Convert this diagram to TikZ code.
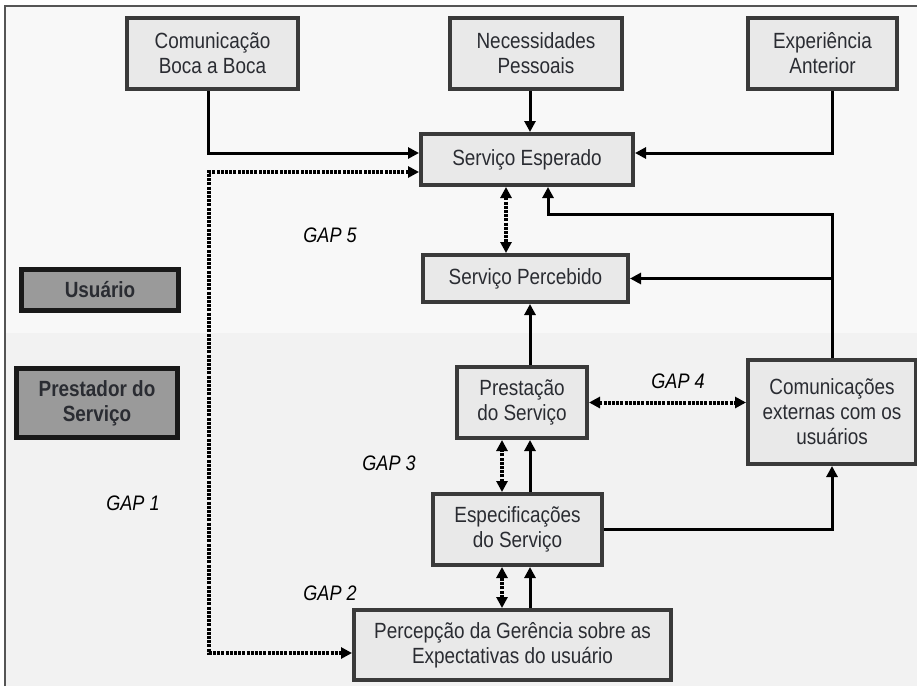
\documentclass[tikz,border=0pt]{standalone}
\usepackage{fontspec}
\setmainfont[FakeStretch=0.86]{Liberation Sans}
\usetikzlibrary{arrows.meta}
\definecolor{txt}{HTML}{2A2C32}
\definecolor{boxline}{HTML}{3A3A3A}
\definecolor{boxfill}{HTML}{E9E9E9}
\definecolor{rolefill}{HTML}{9A9A9A}
\definecolor{bgtop}{HTML}{F8F8F8}
\definecolor{bgbot}{HTML}{F2F2F2}
\definecolor{frame}{HTML}{555555}
\begin{document}
\begin{tikzpicture}[x=1pt,y=-1pt,
  box/.style={draw=boxline, line width=4pt, fill=boxfill, inner sep=0pt, align=center,
    text=txt, font=\fontsize{22}{25}\selectfont},
  rolebox/.style={draw=black!90, line width=5pt, fill=rolefill, inner sep=0pt, align=center,
    text=txt, font=\fontsize{22}{25}\selectfont\bfseries},
  sol/.style={line width=3pt, -{Triangle[length=11pt,width=11pt]}},
  dotl/.style={line width=4pt, dash pattern=on 3pt off 1.2pt,
    {Triangle[length=11pt,width=11pt]}-{Triangle[length=11pt,width=11pt]}},
  gap/.style={font=\fontsize{21}{24}\selectfont\itshape, text=black, inner sep=0pt}
]
\useasboundingbox (0,0) rectangle (917,686);
\begin{scope}
\clip (0,0) rectangle (917,686);
\fill[white] (0,0) rectangle (917,686);
\fill[bgtop] (5,6) rectangle (917,333);
\fill[bgbot] (5,333) rectangle (917,686);
\draw[frame, line width=1.8pt] (5,686) -- (5,6) -- (917,6);

% nodes
\node[box, minimum width=171, minimum height=71] (com) at (212.5,53.5) {Comunicação\\Boca a Boca};
\node[box, minimum width=172, minimum height=71] (nec) at (536,53.5) {Necessidades\\Pessoais};
\node[box, minimum width=149, minimum height=71] (exp) at (822.5,53.5) {Experiência\\Anterior};
\node[box, minimum width=212, minimum height=51] (esp) at (527,159.5) {Serviço Esperado};
\node[box, minimum width=205, minimum height=47] (percb) at (525.5,278.5) {Serviço Percebido};
\node[rolebox, minimum width=157, minimum height=41] (usu) at (100,290) {Usuário};
\node[rolebox, minimum width=161, minimum height=69] (prestador) at (97,403) {Prestador do\\Serviço};
\node[box, minimum width=130, minimum height=71] (prest) at (522,402.5) {Prestação\\do Serviço};
\node[box, minimum width=168, minimum height=104] (comext) at (832,412) {Comunicações\\externas com os\\usuários};
\node[box, minimum width=169, minimum height=71] (spec) at (517.5,529.5) {Especificações\\do Serviço};
\node[box, minimum width=317, minimum height=70] (perc) at (512.5,645) {Percepção da Gerência sobre as\\Expectativas do usuário};

% gap labels
\node[gap] (g5) at (330,235) {GAP 5};
\node[gap] (g4) at (678,381) {GAP 4};
\node[gap] (g3) at (389,463) {GAP 3};
\node[gap] (g1) at (133,503) {GAP 1};
\node[gap] (g2) at (330,593) {GAP 2};

% turning points
\coordinate (tA) at (209,172);
\coordinate (tB) at (209,653);
\coordinate (tR) at (832,214);

% connectors
\draw[sol] ([xshift=-4]com.south) |- ([yshift=6.5]esp.west);
\draw[sol] ([xshift=-6]nec.south) -- ([xshift=-6]nec.south |- esp.north);
\draw[sol] ([xshift=10]exp.south) |- ([yshift=6.5]esp.east);
\draw[dotl] ([yshift=-12.5]esp.west) -- (tA) -- (tB) -- (tB -| perc.west);
\draw[dotl] ([xshift=-21]esp.south) -- ([xshift=-21]esp.south |- percb.north);
\draw[sol] (comext.north) -- (tR) -| ([xshift=21]esp.south);
\draw[sol] (comext.north |- percb.east) -- (percb.east);
\draw[sol] ([xshift=8]prest.north) -- ([xshift=8]prest.north |- percb.south);
\draw[dotl] (prest.east) -- (prest.east -| comext.west);
\draw[dotl] ([xshift=-15.5]spec.north) -- ([xshift=-15.5]spec.north |- prest.south);
\draw[sol] ([xshift=12.5]spec.north) -- ([xshift=12.5]spec.north |- prest.south);
\draw[sol] (spec.east) -| (comext.south);
\draw[dotl] ([xshift=-10.5]perc.north) -- ([xshift=-10.5]perc.north |- spec.south);
\draw[sol] ([xshift=17.5]perc.north) -- ([xshift=17.5]perc.north |- spec.south);
\end{scope}
\end{tikzpicture}
\end{document}
